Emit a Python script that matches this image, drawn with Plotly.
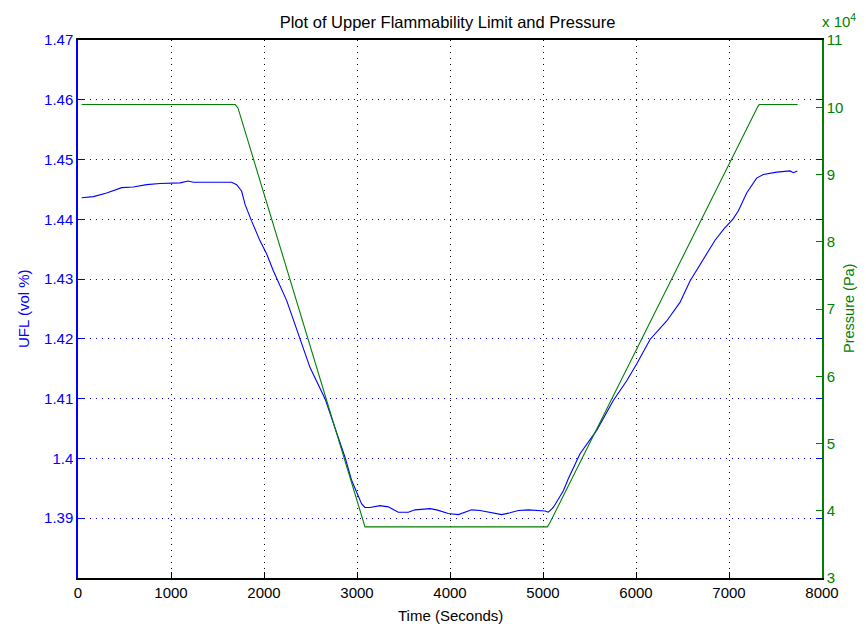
import plotly.graph_objects as go

# UFL curve (vol %) vs time (s)
ufl_time = [40, 165, 308, 470, 595, 738, 882, 1097, 1186, 1240, 1652, 1706, 1760,
            1796, 1867, 1957, 2029, 2100, 2244, 2387, 2495, 2656, 2781, 2871, 2943,
            3050, 3086, 3140, 3247, 3337, 3444, 3552, 3624, 3785, 3857, 3982, 4090,
            4233, 4323, 4430, 4556, 4645, 4735, 4842, 4932, 5022, 5057, 5111, 5219,
            5272, 5398, 5577, 5756, 5900, 6007, 6151, 6330, 6473, 6581, 6688, 6850,
            6950, 7040, 7100, 7190, 7297, 7369, 7513, 7656, 7692, 7735]
ufl_vals = [1.4436, 1.4438, 1.4444, 1.4453, 1.4454, 1.4458, 1.4460, 1.4461, 1.4464,
            1.4462, 1.4462, 1.4458, 1.4447, 1.4425, 1.4397, 1.4364, 1.4342, 1.4314,
            1.4264, 1.4200, 1.4152, 1.4100, 1.4041, 1.4002, 1.3963, 1.3924, 1.3918,
            1.3918, 1.3921, 1.3919, 1.3910, 1.3910, 1.3914, 1.3916, 1.3914, 1.3908,
            1.3906, 1.3914, 1.3913, 1.3910, 1.3906, 1.3909, 1.3913, 1.3914, 1.3913,
            1.3912, 1.3910, 1.3918, 1.3946, 1.3966, 1.4008, 1.4047, 1.4097, 1.4130,
            1.4158, 1.4199, 1.4230, 1.4261, 1.4297, 1.4325, 1.4365, 1.4385, 1.4400,
            1.4414, 1.4444, 1.4469, 1.4475, 1.4479, 1.4481, 1.4478, 1.4481]

# pressure (Pa) vs time (s)
p_time = [40, 1690, 1720, 3070, 3086, 5046, 5070, 7310, 7326, 7738]
p_vals = [100400, 100400, 99900, 38000, 37600, 37600, 38100, 100100, 100400, 100400]

# axis ticks
x_ticks = [0, 1000, 2000, 3000, 4000, 5000, 6000, 7000, 8000]
ufl_ticks = [1.39, 1.40, 1.41, 1.42, 1.43, 1.44, 1.45, 1.46, 1.47]
ufl_labels = ['1.39', '1.4', '1.41', '1.42', '1.43', '1.44', '1.45', '1.46', '1.47']
p_ticks = [30000, 40000, 50000, 60000, 70000, 80000, 90000, 100000, 110000]
p_labels = ['3', '4', '5', '6', '7', '8', '9', '10', '11']

BLUE = '#0000ff'
GREEN = '#008000'
FONT = 'Liberation Sans, Arial, sans-serif'
DOTS = '1px,5px'   # sparse matlab-like dotted grid

# page body has an 8px margin on every side -> keep the figure inside the window
W, H = 850, 619

fig = go.Figure()

fig.add_trace(go.Scatter(
    x=ufl_time, y=ufl_vals, mode='lines',
    line=dict(color=BLUE, width=1.1), yaxis='y', name='UFL'
))
fig.add_trace(go.Scatter(
    x=p_time, y=p_vals, mode='lines',
    line=dict(color=GREEN, width=1.1), yaxis='y2', name='Pressure'
))

fig.update_layout(
    width=W, height=H,
    margin=dict(l=70, r=36, t=32, b=49),
    paper_bgcolor='white', plot_bgcolor='white',
    showlegend=False,
    font=dict(family=FONT, size=15, color='black'),
    title=dict(text='Plot of Upper Flammability Limit and Pressure',
               x=439.5 / W, xanchor='center', y=1 - 14 / H, yanchor='middle',
               font=dict(size=16.5, color='black')),
    xaxis=dict(
        range=[0, 8000], tickvals=x_ticks,
        ticks='inside', ticklen=6, tickcolor='black',
        showline=True, linecolor='black', linewidth=1.5, mirror=True,
        showgrid=True, gridcolor='black', griddash=DOTS, gridwidth=1,
        zeroline=False, automargin=False,
        tickfont=dict(color='black'),
    ),
    yaxis=dict(
        range=[1.38, 1.47], tickvals=ufl_ticks, ticktext=ufl_labels,
        ticks='inside', ticklen=6, tickcolor=BLUE,
        showline=True, linecolor=BLUE, linewidth=1.5, mirror='ticks',
        showgrid=True, gridcolor=BLUE, griddash=DOTS, gridwidth=1,
        zeroline=False, automargin=False,
        tickfont=dict(color=BLUE),
    ),
    yaxis2=dict(
        range=[30000, 110000], tickvals=p_ticks, ticktext=p_labels,
        overlaying='y', side='right',
        ticks='inside', ticklen=6, tickcolor=GREEN,
        showline=True, linecolor=GREEN, linewidth=1.5,
        showgrid=False, zeroline=False, automargin=False,
        tickfont=dict(color=GREEN),
    ),
)

# axis titles as annotations so they sit where matlab puts them
fig.add_annotation(text='Time (Seconds)', xref='paper', yref='paper',
                   x=0.5, y=0, yshift=-37, xanchor='center', yanchor='middle',
                   showarrow=False, font=dict(size=15, color='black'))
fig.add_annotation(text='UFL (vol %)', xref='paper', yref='paper',
                   x=0, y=0.5, xshift=-55, xanchor='center', yanchor='middle',
                   textangle=-90, showarrow=False, font=dict(size=15, color=BLUE))
fig.add_annotation(text='Pressure (Pa)', xref='paper', yref='paper',
                   x=1, y=0.5, xshift=27, xanchor='center', yanchor='middle',
                   textangle=-90, showarrow=False, font=dict(size=14.5, color=GREEN))

# MATLAB style exponent label above the right axis
fig.add_annotation(
    text='x 10<sup>4</sup>', xref='paper', yref='paper',
    x=1.0, y=1.0, xanchor='left', yanchor='bottom', yshift=8, xshift=-2,
    showarrow=False, font=dict(color=GREEN, size=15)
)

fig.write_html("out.html")
